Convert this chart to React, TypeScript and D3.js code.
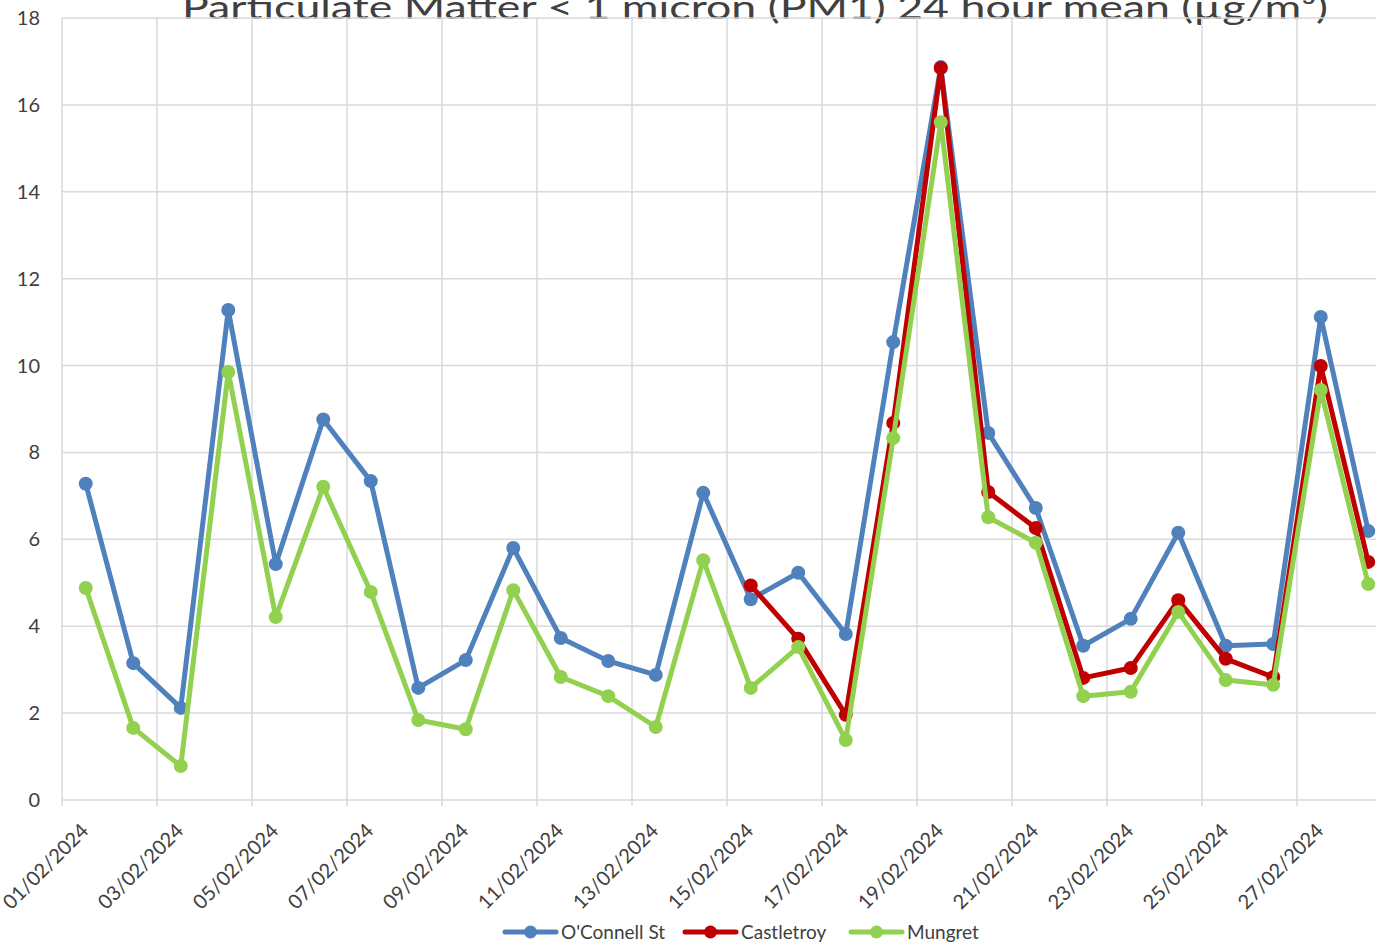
import React from 'react'
import * as d3 from 'd3'

// Categories: days of Feb 2024 with readings
const days: string[] = d3.range(1, 29).map(d => `${String(d).padStart(2, '0')}/02/2024`)

const oconnell: (number | null)[] = [
  7.28, 3.15, 2.12, 11.28, 5.43, 8.76, 7.34, 2.58, 3.22, 5.8,
  3.73, 3.2, 2.88, 7.07, 4.62, 5.23, 3.82, 10.54, 16.87, 8.45,
  6.72, 3.55, 4.17, 6.15, 3.55, 3.59, 11.12, 6.19,
]
const castletroy: (number | null)[] = [
  null, null, null, null, null, null, null, null, null, null,
  null, null, null, null, 4.94, 3.71, 1.96, 8.68, 16.85, 7.09,
  6.26, 2.81, 3.04, 4.6, 3.25, 2.83, 9.99, 5.48,
]
const mungret: (number | null)[] = [
  4.88, 1.66, 0.78, 9.85, 4.21, 7.21, 4.79, 1.84, 1.63, 4.83,
  2.83, 2.39, 1.68, 5.52, 2.58, 3.52, 1.38, 8.33, 15.6, 6.51,
  5.92, 2.39, 2.49, 4.33, 2.76, 2.65, 9.44, 4.97,
]

const yTicks = [0, 2, 4, 6, 8, 10, 12, 14, 16, 18]

const series = [
  { name: "O'Connell St", color: '#4f81bd', values: oconnell },
  { name: 'Castletroy', color: '#c00000', values: castletroy },
  { name: 'Mungret', color: '#92d050', values: mungret },
]

const W = 1376
const H = 947
const FONT = 'Lato, "Open Sans", sans-serif'
const TEXT = '#404040'
const GRID = '#d9d9d9'

export default function App() {
  const left = 62
  const top = 18
  const bottom = 800
  const band = 47.5

  const x = d3.scaleBand<string>()
    .domain(days)
    .range([left, left + band * days.length])
    .paddingInner(0)
    .paddingOuter(0)
  const cx = (i: number) => (x(days[i]) as number) + x.bandwidth() / 2

  const y = d3.scaleLinear().domain([0, 18]).range([bottom, top])

  const line = d3.line<number | null>()
    .defined(d => d != null)
    .x((_, i) => cx(i))
    .y(d => y(d as number))

  // vertical gridlines every 2 categories, plus the closing edge
  const vGrid = days.filter((_, i) => i % 2 === 0).map(d => x(d) as number)
  vGrid.push(x.range()[1])

  const legendItems = [
    { lx: 505, tx: 561 },
    { lx: 685, tx: 741 },
    { lx: 851, tx: 907 },
  ]

  return (
    <svg width={W} height={H} style={{ position: 'absolute', left: 0, top: 0, background: '#fff' }} fontFamily={FONT}>
      {/* title, cropped at the top */}
      <text
        x={755}
        y={19}
        textAnchor="middle"
        fontSize={32}
        fill={TEXT}
        textLength={1146}
        lengthAdjust="spacingAndGlyphs"
      >
        Particulate Matter &lt; 1 micron (PM1) 24 hour mean (µg/m³)
      </text>

      {/* horizontal gridlines */}
      {yTicks.map(t => (
        <line key={t} x1={left} x2={W} y1={y(t)} y2={y(t)} stroke={GRID} strokeWidth={1.5} />
      ))}
      {/* vertical gridlines with tick marks below the axis */}
      {vGrid.map((gx, i) => (
        <line key={i} x1={gx} x2={gx} y1={top} y2={bottom + 6} stroke={GRID} strokeWidth={1.5} />
      ))}

      {/* y labels */}
      {yTicks.map(t => (
        <text key={t} x={40} y={y(t)} dy="0.35em" textAnchor="end" fontSize={20} fill={TEXT}>
          {t}
        </text>
      ))}

      {/* x labels */}
      {days.map((d, i) =>
        i % 2 === 0 ? (
          <text
            key={d}
            transform={`translate(${cx(i) + 4},${832}) rotate(-45)`}
            textAnchor="end"
            fontSize={20}
            fill={TEXT}
          >
            {d}
          </text>
        ) : null
      )}

      {/* series */}
      {series.map(s => (
        <g key={s.name}>
          <path d={line(s.values) || ''} fill="none" stroke={s.color} strokeWidth={5} strokeLinejoin="round" />
          {s.values.map((v, i) =>
            v == null ? null : <circle key={i} cx={cx(i)} cy={y(v)} r={7} fill={s.color} />
          )}
        </g>
      ))}

      {/* legend */}
      {series.map((s, i) => (
        <g key={s.name}>
          <line x1={legendItems[i].lx} x2={legendItems[i].lx + 51} y1={932} y2={932} stroke={s.color} strokeWidth={5} strokeLinecap="round" />
          <circle cx={legendItems[i].lx + 25.5} cy={932} r={6.5} fill={s.color} />
          <text x={legendItems[i].tx} y={932} dy="0.35em" fontSize={19} fill={TEXT}>
            {s.name}
          </text>
        </g>
      ))}
    </svg>
  )
}
